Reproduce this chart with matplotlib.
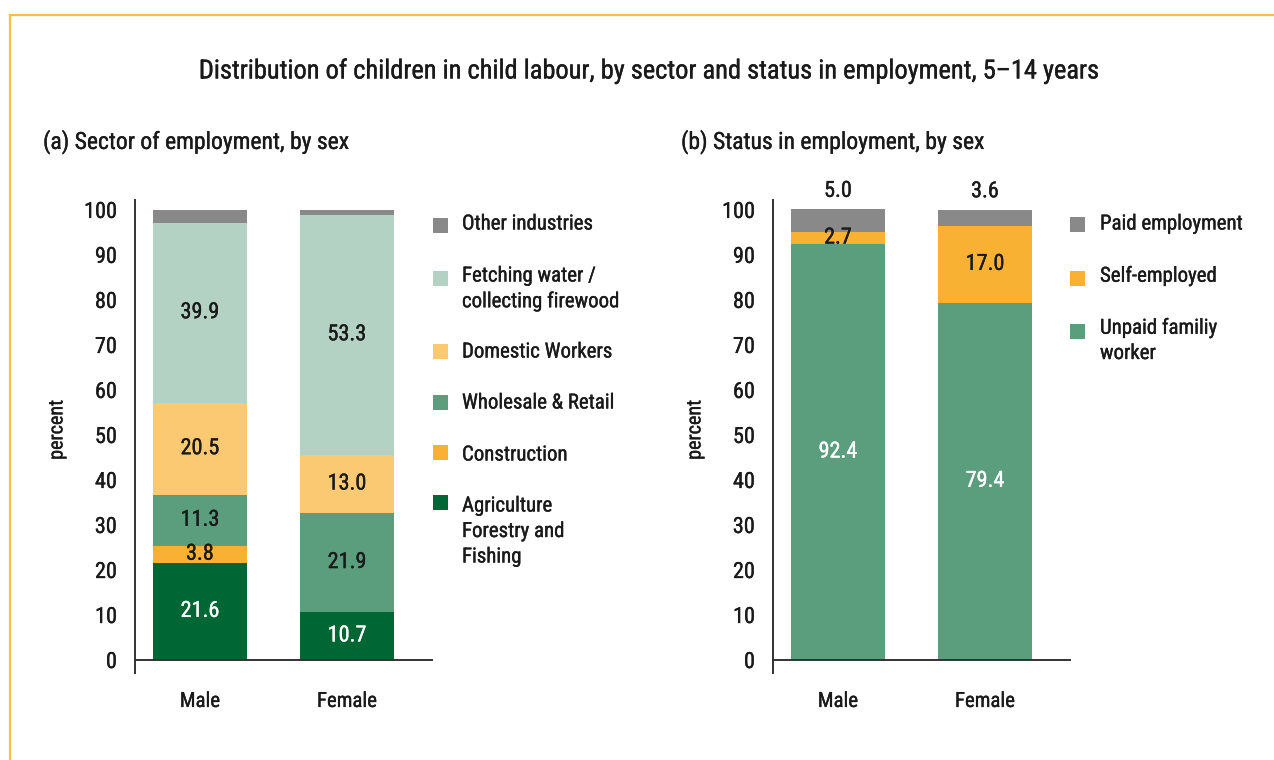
import matplotlib
matplotlib.use("Agg")
import matplotlib.pyplot as plt
import matplotlib.patheffects as pe
from matplotlib.lines import Line2D
from matplotlib.patches import Rectangle
from matplotlib.ticker import FixedLocator

plt.rcParams['font.family'] = ['Roboto Condensed', 'Roboto', 'DejaVu Sans']
plt.rcParams['font.weight'] = 'normal'

# ---- data -------------------------------------------------------------
sexes = ["Male", "Female"]

# (a) sector of employment, percent (stacked bottom -> top)
agriculture = [21.6, 10.7]
construction = [3.8, 0.0]
wholesale = [11.3, 21.9]
domestic = [20.5, 13.0]
fetching = [39.9, 53.3]
other_ind = [2.9, 1.1]

sector_names = ["Agriculture\nForestry and\nFishing", "Construction",
                "Wholesale & Retail", "Domestic Workers",
                "Fetching water /\ncollecting firewood", "Other industries"]

# (b) status in employment, percent (stacked bottom -> top)
unpaid_family = [92.4, 79.4]
self_employed = [2.7, 17.0]
paid_employment = [5.0, 3.6]

status_names = ["Unpaid familiy\nworker", "Self-employed", "Paid employment"]

yticks = list(range(0, 101, 10))

# ---- styling ----------------------------------------------------------
W, H = 1274, 760
C_AGRI = "#006633"
C_CONS = "#F8B133"
C_WHOL = "#5B9E7E"
C_DOME = "#FBC971"
C_FETC = "#B3D2C4"
C_OTHR = "#898989"
TXT = "#1a1a1a"
AX = "#333333"

# slightly heavier strokes for the text
DARK_FX = [pe.withStroke(linewidth=0.25, foreground=TXT)]
LIGHT_FX = [pe.withStroke(linewidth=0.25, foreground="white")]


def fx(px):
    return px / W


def fy(py):
    return 1 - py / H


fig = plt.figure(figsize=(W / 100, H / 100), dpi=100)

# frame lines on the top and left
fig.add_artist(Line2D([fx(10), 1], [fy(14.5), fy(14.5)], color="#FBBC48", lw=1.6))
fig.add_artist(Line2D([fx(10), fx(10)], [fy(14.5), 0], color="#FBBC48", lw=1.6))

fig.text(fx(649), fy(71), "Distribution of children in child labour, by sector and status in employment, 5\u201314 years",
         ha="center", va="center", fontsize=19, color=TXT, path_effects=DARK_FX)
fig.text(fx(43), fy(142), "(a) Sector of employment, by sex", ha="left", va="center", fontsize=17,
         color=TXT, path_effects=DARK_FX)
fig.text(fx(681), fy(142), "(b) Status in employment, by sex", ha="left", va="center", fontsize=17,
         color=TXT, path_effects=DARK_FX)

YTOP = 102.2
XL = (-0.442, 1.578)
BW = 0.633


def make_axes(left_px):
    ax = fig.add_axes([fx(left_px), fy(660), 297 / W, (660 - 200) / H])
    ax.set_xlim(*XL)
    ax.set_ylim(0, YTOP)
    for s in ("top", "right"):
        ax.spines[s].set_visible(False)
    for s in ("left", "bottom"):
        ax.spines[s].set_color(AX)
        ax.spines[s].set_linewidth(1.4)
    ax.set_yticks(yticks)
    ax.set_xticks(range(len(sexes)))
    ax.set_xticklabels(sexes)
    ax.tick_params(axis="y", which="major", length=0, pad=13, labelsize=16, labelcolor=TXT)
    ax.tick_params(axis="x", which="major", length=0, pad=23, labelsize=15, labelcolor=TXT)
    ax.yaxis.set_minor_locator(FixedLocator([0]))
    ax.xaxis.set_minor_locator(FixedLocator([XL[0]]))
    ax.tick_params(axis="y", which="minor", length=8, width=1.4, color=AX, direction="out")
    ax.tick_params(axis="x", which="minor", length=10, width=1.4, color=AX, direction="out")
    for lab in ax.get_xticklabels() + ax.get_yticklabels():
        lab.set_path_effects(DARK_FX)
    ax.set_ylabel("percent", fontsize=14.5, color=TXT, va="center", ha="center",
                  path_effects=DARK_FX)
    ax.yaxis.set_label_coords(-0.263, 0.5)
    return ax


def stack(ax, series, colors, label_colors, show):
    x = list(range(len(sexes)))
    bottom = [0.0] * len(sexes)
    for vals, col, lc, sh in zip(series, colors, label_colors, show):
        ax.bar(x, vals, BW, bottom=bottom, color=col, edgecolor="none")
        if sh:
            for xi, v, b in zip(x, vals, bottom):
                if v > 0:
                    ax.text(xi, b + v / 2, f"{v:.1f}", ha="center", va="center",
                            fontsize=16, color=lc,
                            path_effects=LIGHT_FX if lc == "white" else DARK_FX)
        bottom = [b + v for b, v in zip(bottom, vals)]
    return bottom


def legend(entries, sq_left_px, text_left_px):
    # entries: (label, colour, square-centre y px, first-line centre y px)
    for label, col, sq_y, t_y in entries:
        fig.add_artist(Rectangle((fx(sq_left_px), fy(sq_y + 7.5)), 15 / W, 15 / H,
                                 facecolor=col, edgecolor="none", transform=fig.transFigure))
        for i, line in enumerate(label.split("\n")):
            fig.text(fx(text_left_px), fy(t_y + i * 25.5), line, ha="left", va="center",
                     fontsize=15, color=TXT, path_effects=DARK_FX)


# ---- (a) --------------------------------------------------------------
ax1 = make_axes(135)
stack(ax1,
      [agriculture, construction, wholesale, domestic, fetching, other_ind],
      [C_AGRI, C_CONS, C_WHOL, C_DOME, C_FETC, C_OTHR],
      ["white", TXT, TXT, TXT, TXT, TXT],
      [True, True, True, True, True, False])

legend([
    (sector_names[5], C_OTHR, 225, 224),
    (sector_names[4], C_FETC, 278, 276),
    (sector_names[3], C_DOME, 352, 352),
    (sector_names[2], C_WHOL, 402, 403),
    (sector_names[1], C_CONS, 452, 455),
    (sector_names[0], C_AGRI, 502, 506),
], 433, 462)

# ---- (b) --------------------------------------------------------------
ax2 = make_axes(773)
tops = stack(ax2,
             [unpaid_family, self_employed, paid_employment],
             [C_WHOL, C_CONS, C_OTHR],
             ["white", TXT, TXT],
             [True, True, False])
for xi, (v, t) in enumerate(zip(paid_employment, tops)):
    ax2.text(xi, t + 2.8, f"{v:.1f}", ha="center", va="baseline", fontsize=16,
             color=TXT, clip_on=False, path_effects=DARK_FX)

legend([
    (status_names[2], C_OTHR, 224.5, 224),
    (status_names[1], C_CONS, 278, 276),
    (status_names[0], C_WHOL, 331, 328),
], 1070, 1100)

fig.savefig("out.png", dpi=100)
